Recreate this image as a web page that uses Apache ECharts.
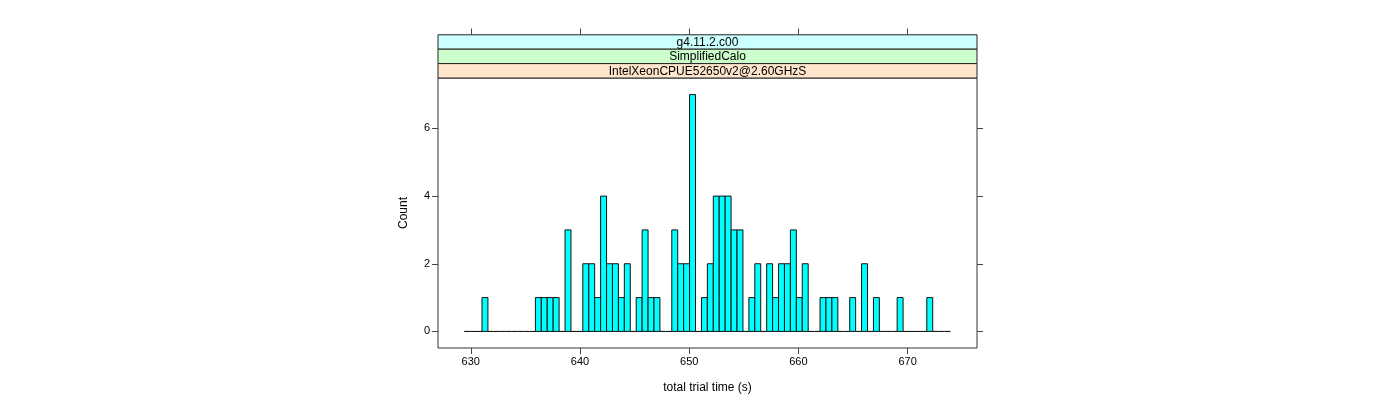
<!DOCTYPE html>
<html><head><meta charset="utf-8">
<script src="https://cdn.jsdelivr.net/npm/echarts@6/dist/echarts.min.js"></script>
<style>html,body{margin:0;background:#fff}#c{width:1400px;height:400px}</style>
</head><body><div id="c"></div>
<script>
// Histogram breaks: first break and bin width (total trial time, s)
const breakStart = 629.40;
const binWidth = 0.543;
// Counts per bin (82 bins)
const counts = [
  0,0,0,1,0,0,0,0,0,0,
  0,0,1,1,1,1,0,3,0,0,
  2,2,1,4,2,2,1,2,0,1,
  3,1,1,0,0,3,2,2,7,0,
  1,2,4,4,4,3,3,0,1,2,
  0,2,1,2,2,3,1,2,0,0,
  1,1,1,0,0,1,0,2,0,1,
  0,0,0,1,0,0,0,0,1,0,
  0,0
];
const xTicks = [630, 640, 650, 660, 670];
const yTicks = [0, 2, 4, 6];
const stripLabels = ['g4.11.2.c00', 'SimplifiedCalo', 'IntelXeonCPUE52650v2@2.60GHzS'];
const stripColors = ['#ccffff', '#ccffcc', '#ffe5cc'];
const xTitle = 'total trial time (s)';
const yTitle = 'Count';

const bins = counts.map((c, i) => [breakStart + i * binWidth, breakStart + (i + 1) * binWidth, c]);

const G = { left: 438, right: 977, top: 78, bottom: 348 };
const stripH = 14.4;
const FONT = 'Liberation Sans, Arial, Helvetica, sans-serif';

const chart = echarts.init(document.getElementById('c'), null, { renderer: 'canvas' });

const graphics = [];
stripLabels.forEach((t, i) => {
  const y0 = G.top - stripH * (3 - i);
  graphics.push({
    type: 'rect', z: 10,
    shape: { x: G.left, y: y0, width: G.right - G.left, height: stripH },
    style: { fill: stripColors[i], stroke: '#222', lineWidth: 1 }
  });
  graphics.push({
    type: 'text', z: 11,
    x: (G.left + G.right) / 2, y: y0 + stripH / 2 + 0.5,
    style: { text: t, fontSize: 12, fontFamily: FONT, fill: '#000', align: 'center', verticalAlign: 'middle' }
  });
});

const tickStyle = { color: '#444' };
chart.setOption({
  animation: false,
  backgroundColor: '#fff',
  grid: {
    left: G.left, top: G.top, width: G.right - G.left, height: G.bottom - G.top,
    show: true, borderColor: '#333', borderWidth: 1, backgroundColor: 'transparent'
  },
  xAxis: [{
    type: 'value', min: 627.0, max: 676.35, position: 'bottom',
    axisLine: { show: false, onZero: false }, splitLine: { show: false },
    axisTick: { show: true, customValues: xTicks, length: 6, lineStyle: tickStyle },
    axisLabel: { customValues: xTicks, fontSize: 11, fontFamily: FONT, color: '#000', margin: 8 },
    name: xTitle, nameLocation: 'middle', nameGap: 34,
    nameTextStyle: { fontSize: 12, fontFamily: FONT, color: '#000' }
  }, {
    type: 'value', min: 627.0, max: 676.35, position: 'top', offset: 43.5,
    axisLine: { show: false, onZero: false }, splitLine: { show: false },
    axisTick: { show: true, customValues: xTicks, length: 6, lineStyle: tickStyle },
    axisLabel: { show: false }
  }],
  yAxis: [{
    type: 'value', min: -0.49, max: 7.49, position: 'left',
    axisLine: { show: false, onZero: false }, splitLine: { show: false },
    axisTick: { show: true, customValues: yTicks, length: 6, lineStyle: tickStyle },
    axisLabel: { customValues: yTicks, fontSize: 11, fontFamily: FONT, color: '#000', margin: 8 },
    name: yTitle, nameLocation: 'middle', nameGap: 28,
    nameTextStyle: { fontSize: 12, fontFamily: FONT, color: '#000' }
  }, {
    type: 'value', min: -0.49, max: 7.49, position: 'right',
    axisLine: { show: false, onZero: false }, splitLine: { show: false },
    axisTick: { show: true, customValues: yTicks, length: 6, lineStyle: tickStyle },
    axisLabel: { show: false }
  }],
  graphic: graphics,
  series: [{
    type: 'custom',
    xAxisIndex: 0, yAxisIndex: 0,
    data: bins,
    encode: { x: [0, 1], y: 2 },
    renderItem: function (params, api) {
      const a = api.coord([api.value(0), 0]);
      const b = api.coord([api.value(1), api.value(2)]);
      if (api.value(2) === 0) {
        return { type: 'line', shape: { x1: a[0], y1: a[1], x2: b[0], y2: a[1] }, style: { stroke: '#000', lineWidth: 1 } };
      }
      return {
        type: 'rect',
        shape: { x: a[0], y: b[1], width: b[0] - a[0], height: a[1] - b[1] },
        style: { fill: '#00ffff', stroke: '#111', lineWidth: 1 }
      };
    }
  }]
});
</script>
</body></html>
